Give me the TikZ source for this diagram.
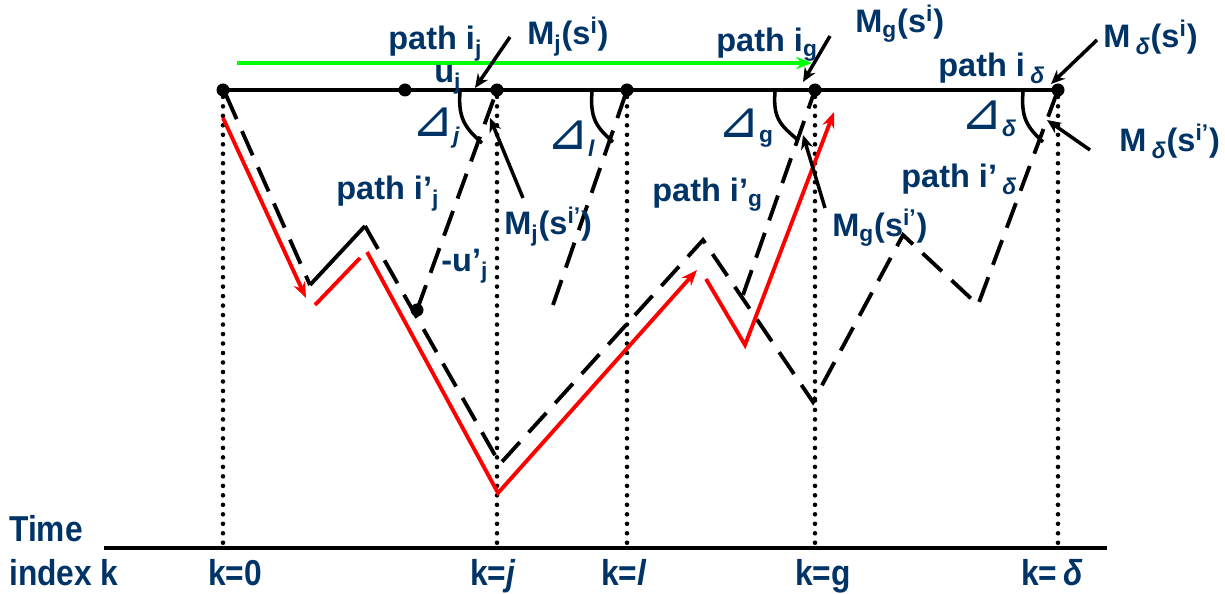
\documentclass[tikz,border=0pt]{standalone}
\usepackage{fontspec}
\setmainfont{Liberation Sans}
\newfontfamily\narrowfont{Liberation Sans}[FakeStretch=0.88]
\newfontfamily\trifont{DejaVu Sans}
\usetikzlibrary{arrows.meta}
\definecolor{navy}{RGB}{0,51,102}
\definecolor{pred}{RGB}{255,0,0}
\definecolor{pgreen}{RGB}{0,255,0}
\newcommand{\Tri}{{\trifont\mdseries\fontsize{29}{29}\selectfont ⊿}\kern-0.5pt}
\newcommand{\lsb}[1]{\textsubscript{#1}}
\newcommand{\lsp}[1]{\textsuperscript{#1}}
\tikzset{
  dotnode/.style={circle,fill=black,inner sep=0pt,minimum size=7.4pt},
  lab/.style={text=navy,font=\bfseries\fontsize{18.5}{20}\selectfont,inner sep=0pt,anchor=base west},
  blab/.style={text=navy,font=\narrowfont\bfseries\fontsize{20.5}{22}\selectfont,inner sep=0pt,anchor=base west},
  topline/.style={line width=2.3pt},
  axisline/.style={line width=2.8pt},
  dotline/.style={line width=2.6pt,line cap=round,dash pattern=on 0pt off 5.4pt},
  dashline/.style={line width=2.2pt,dash pattern=on 15pt off 7.5pt},
  solidline/.style={line width=2.2pt},
  redline/.style={line width=2.2pt,draw=pred},
  redarrow/.style={line width=2.2pt,draw=pred,-{Stealth[length=9pt,width=7pt,fill=pred]}},
  greenarrow/.style={line width=2.3pt,draw=pgreen,-{Stealth[length=9pt,width=7pt,fill=pgreen]}},
  annot/.style={line width=2pt,-{Stealth[length=8pt,width=7pt]}},
  arcline/.style={line width=2pt}
}
\begin{document}
\begin{tikzpicture}[x=0.02cm,y=-0.02cm]
\useasboundingbox (0,0) rectangle (1225,594);
% top dots
\node[dotnode] (T0) at (223,90) {};
\node[dotnode] (Tu) at (405,90) {};
\node[dotnode] (Tj) at (497,90) {};
\node[dotnode] (Tl) at (627,90) {};
\node[dotnode] (Tg) at (815,90) {};
\node[dotnode] (Td) at (1058,90) {};
\node[dotnode] (D1) at (417,310) {};
% axis
\coordinate (AL) at (104,548);
\coordinate (AR) at (1107,548);
\draw[axisline] (AL) -- (AR);
% dotted verticals
\foreach \n in {T0,Tj,Tl,Tg,Td} \draw[dotline] (\n.south) -- (\n |- AL);
% top line
\draw[topline] (T0.center) -- (Td.center);
% green arrow
\coordinate (G1) at (237,63);
\coordinate (G2) at (812,63);
\draw[greenarrow] (G1) -- (G2);
% path i' (dashed)
\coordinate (P0) at (226,95);
\coordinate (P1) at (310,285);
\coordinate (P2) at (365,226);
\coordinate (P3) at (500,464);
\coordinate (P4) at (703,240);
\coordinate (P5) at (813,402);
\coordinate (P6) at (903,235);
\coordinate (P7) at (978,305);
\draw[dashline] (P0) -- (P1);
\draw[solidline] (P1) -- (P2);
\draw[dashline] (P2) -- (P3) -- (P4) -- (P5) -- (P6) -- (P7) -- (Td.center);
% other dashed rising lines
\coordinate (L1) at (553,305);
\coordinate (L2) at (743,295);
\draw[dashline] (D1.center) -- (Tj.center);
\draw[dashline] (L1) -- (Tl.center);
\draw[dashline] (L2) -- (Tg.center);
% angle arcs
\coordinate (Aj1) at (460,92);  \coordinate (Aj2) at (482,143);
\coordinate (Al1) at (592,92);  \coordinate (Al2) at (613,142);
\coordinate (Ag1) at (775,92);  \coordinate (Ag2) at (798,140);
\coordinate (Ad1) at (1023,92); \coordinate (Ad2) at (1043,142);
\draw[arcline] (Aj1) .. controls (458,118) and (465,128) .. (Aj2);
\draw[arcline] (Al1) .. controls (590,118) and (596,127) .. (Al2);
\draw[arcline] (Ag1) .. controls (773,118) and (780,125) .. (Ag2);
\draw[arcline] (Ad1) .. controls (1021,118) and (1027,127) .. (Ad2);
% red paths
\coordinate (R1a) at (223,118); \coordinate (R1b) at (306,298);
\coordinate (R2a) at (315,305); \coordinate (R2b) at (360,258);
\coordinate (R3a) at (367,252); \coordinate (R3b) at (498,493); \coordinate (R3c) at (697,270);
\coordinate (R4a) at (706,279); \coordinate (R4b) at (745,345); \coordinate (R4c) at (834,112);
\draw[redarrow] (R1a) -- (R1b);
\draw[redline] (R2a) -- (R2b);
\draw[redarrow] (R3a) -- (R3b) -- (R3c);
\draw[redarrow] (R4a) -- (R4b) -- (R4c);
% annotation arrows
\coordinate (Mj1s) at (510,37);   \coordinate (Mj1t) at (475,88);
\coordinate (Mj2s) at (523,198);  \coordinate (Mj2t) at (490,118);
\coordinate (Mg1s) at (830,36);   \coordinate (Mg1t) at (803,82);
\coordinate (Mg2s) at (825,208);  \coordinate (Mg2t) at (803,135);
\coordinate (Md1s) at (1097,40);  \coordinate (Md1t) at (1051,84);
\coordinate (Md2s) at (1090,150); \coordinate (Md2t) at (1047,120);
\draw[annot] (Mj1s) -- (Mj1t);
\draw[annot] (Mj2s) -- (Mj2t);
\draw[annot] (Mg1s) -- (Mg1t);
\draw[annot] (Mg2s) -- (Mg2t);
\draw[annot] (Md1s) -- (Md1t);
\draw[annot] (Md2s) -- (Md2t);
% labels
\node[lab] (lpij) at (388,50) {path i\lsb{j}};
\node[lab] (lMj1) at (527,45) {M\lsb{j}(s\lsp{i})};
\node[lab] (luj) at (434,83) {u\lsb{j}};
\node[lab] (lTj) at (411,137) {\Tri\lsb{\textit{j}}};
\node[lab] (lTl) at (546,150) {\Tri\lsb{\textit{l}}};
\node[lab] (lpipj) at (336,200) {path i’\lsb{j}};
\node[lab] (lupj) at (441,272) {-u’\lsb{j}};
\node[lab] (lMj2) at (504,235) {M\lsb{j}(s\lsp{i’})};
\node[lab] (lpig) at (716,52) {path i\lsb{g}};
\node[lab] (lMg1) at (855,33) {M\lsb{g}(s\lsp{i})};
\node[lab] (lTg) at (717,138) {\Tri\lsb{g}};
\node[lab] (lpipg) at (652,202) {path i’\lsb{g}};
\node[lab] (lMg2) at (832,237) {M\lsb{g}(s\lsp{i’})};
\node[lab] (lpid) at (938,77) {path i\,\lsb{\textit{δ}}};
\node[lab] (lMd1) at (1103,48) {M\,\lsb{\textit{δ}}(s\lsp{i})};
\node[lab] (lTd) at (960,130) {\Tri\lsb{\textit{δ}}};
\node[lab] (lMd2) at (1119,152) {M\,\lsb{\textit{δ}}(s\lsp{i’})};
\node[lab] (lpipd) at (901,188) {path i’\,\lsb{\textit{δ}}};
% bottom labels
\node[blab] (ltime) at (9,542) {Time};
\node[blab] (lindex) at (9,586) {index k};
\node[blab] (lk0) at (208,586) {k=0};
\node[blab] (lkj) at (470,586) {k=\textit{j}};
\node[blab] (lkl) at (601,586) {k=\textit{l}};
\node[blab] (lkg) at (795,586) {k=g};
\node[blab] (lkd) at (1021,586) {k=\,\textit{δ}};
\end{tikzpicture}
\end{document}
